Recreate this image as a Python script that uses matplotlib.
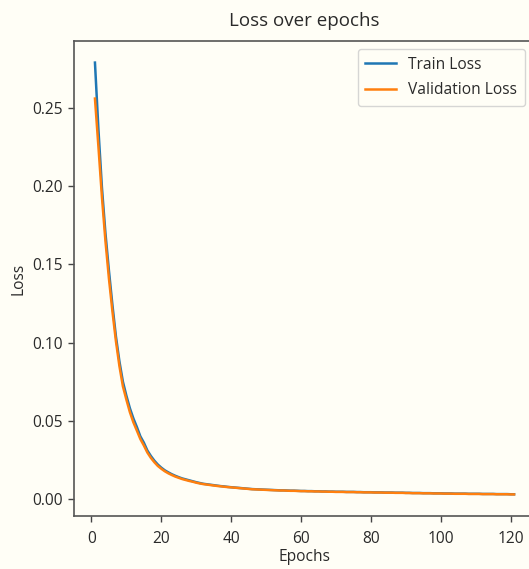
import numpy as np
import matplotlib.pyplot as plt

# loss values, one per epoch (1..121)
train_loss = [
    0.279, 0.236, 0.199, 0.170, 0.146, 0.124, 0.104, 0.088, 0.075, 0.066,
    0.058, 0.0515, 0.046, 0.040, 0.036, 0.031, 0.0275, 0.0245, 0.0220, 0.0200,
    0.0183, 0.0170, 0.0158, 0.0148, 0.0139, 0.0131, 0.0125, 0.0119, 0.0113, 0.0107,
    0.0102, 0.0097, 0.0094, 0.0091, 0.0088, 0.0085, 0.0082, 0.0080, 0.0077, 0.0075,
    0.0073, 0.0071, 0.0069, 0.0067, 0.0065, 0.0063, 0.0062, 0.0061, 0.0060, 0.0059,
    0.0058, 0.0057, 0.0056, 0.0055, 0.0055, 0.0054, 0.0053, 0.0053, 0.0052, 0.0051,
    0.0051, 0.0050, 0.0050, 0.0049, 0.0049, 0.0048, 0.0048, 0.0047, 0.0047, 0.0046,
    0.0046, 0.0046, 0.0045, 0.0045, 0.0045, 0.0044, 0.0044, 0.0043, 0.0043, 0.0043,
    0.0042, 0.0042, 0.0042, 0.0041, 0.0041, 0.0041, 0.0040, 0.0040, 0.0040, 0.0039,
    0.0039, 0.0038, 0.0038, 0.0038, 0.0037, 0.0037, 0.0037, 0.0036, 0.0036, 0.0036,
    0.0035, 0.0035, 0.0035, 0.0034, 0.0034, 0.0034, 0.0034, 0.0033, 0.0033, 0.0033,
    0.0033, 0.0032, 0.0032, 0.0032, 0.0032, 0.0031, 0.0031, 0.0031, 0.0031, 0.0030,
    0.0030,
]
val_loss = [
    0.256, 0.225, 0.193, 0.165, 0.141, 0.120, 0.101, 0.085, 0.072, 0.0635,
    0.0555, 0.049, 0.0437, 0.0383, 0.0342, 0.0297, 0.0263, 0.0235, 0.0211, 0.0193,
    0.0177, 0.0164, 0.0153, 0.0143, 0.0135, 0.0127, 0.0121, 0.0115, 0.0110, 0.0104,
    0.0099, 0.0095, 0.0092, 0.0089, 0.0086, 0.0083, 0.0081, 0.0078, 0.0076, 0.0074,
    0.0072, 0.0070, 0.0068, 0.0066, 0.0064, 0.0062, 0.0061, 0.0060, 0.0059, 0.0058,
    0.0057, 0.0056, 0.0055, 0.0054, 0.0054, 0.0053, 0.0052, 0.0052, 0.0051, 0.0050,
    0.0050, 0.0049, 0.0049, 0.0048, 0.0048, 0.0047, 0.0047, 0.0046, 0.0046, 0.0045,
    0.0045, 0.0045, 0.0044, 0.0044, 0.0044, 0.0043, 0.0043, 0.0042, 0.0042, 0.0042,
    0.0041, 0.0041, 0.0041, 0.0040, 0.0040, 0.0040, 0.0039, 0.0039, 0.0039, 0.0038,
    0.0038, 0.0037, 0.0037, 0.0037, 0.0036, 0.0036, 0.0036, 0.0035, 0.0035, 0.0035,
    0.0034, 0.0034, 0.0034, 0.0033, 0.0033, 0.0033, 0.0033, 0.0032, 0.0032, 0.0032,
    0.0032, 0.0031, 0.0031, 0.0031, 0.0031, 0.0030, 0.0030, 0.0030, 0.0030, 0.0029,
    0.0029,
]
epochs = np.arange(1, len(train_loss) + 1)

bg = '#fffef6'
txt = '#2a2a2a'
plt.rcParams['font.family'] = ['Open Sans', 'DejaVu Sans']
plt.rcParams['text.color'] = txt
plt.rcParams['axes.labelcolor'] = txt
plt.rcParams['xtick.color'] = '#444444'
plt.rcParams['ytick.color'] = '#444444'
plt.rcParams['xtick.labelcolor'] = txt
plt.rcParams['ytick.labelcolor'] = txt

fig = plt.figure(figsize=(5.29, 5.69), dpi=100, facecolor=bg)
# axes runs slightly past the right edge, as in the cropped reference
ax = fig.add_axes([74 / 529, 53 / 569, 461 / 529, 475 / 569], facecolor=bg)

ax.plot(epochs, train_loss, color='#1f77b4', lw=1.8, label='Train Loss')
ax.plot(epochs, val_loss, color='#ff7f0e', lw=1.8, label='Validation Loss')

ax.set_title('Loss over epochs', fontsize=13.5, pad=11)
ax.set_xlabel('Epochs', fontsize=11.2, labelpad=2)
ax.set_ylabel('Loss', fontsize=11.2)
ax.tick_params(labelsize=11.2, length=4.5, width=1)
ax.tick_params(axis='x', pad=6)
ax.set_xticks([0, 20, 40, 60, 80, 100, 120])
ax.set_yticks([0.0, 0.05, 0.10, 0.15, 0.20, 0.25])
for s in ax.spines.values():
    s.set_color('#555555')
    s.set_linewidth(1.2)

leg = ax.legend(loc='upper right', bbox_to_anchor=(0.978, 0.983),
                borderaxespad=0, fontsize=11.2, facecolor=bg,
                edgecolor='#cccccc', handlelength=2.0, handletextpad=0.75,
                labelspacing=0.62, borderpad=0.5)

fig.savefig('out.png', dpi=100, facecolor=bg)
